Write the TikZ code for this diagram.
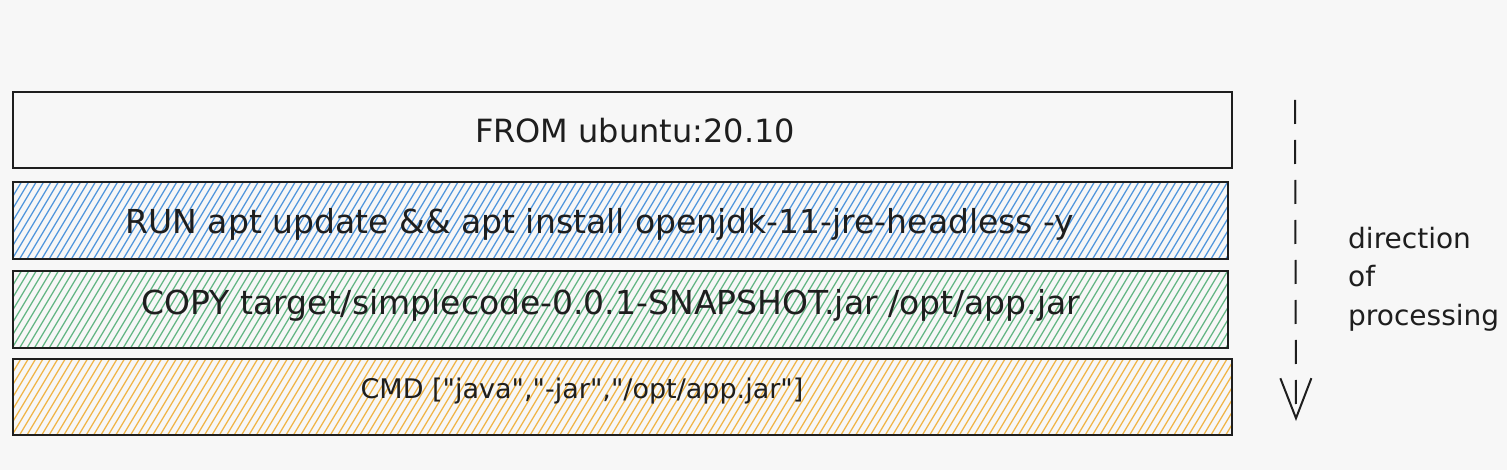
\documentclass[tikz,border=0pt]{standalone}
\usepackage{fontspec}
\setmainfont{DejaVu Sans}
\usetikzlibrary{arrows.meta}
\definecolor{bg}{HTML}{F7F7F7}
\definecolor{ink}{HTML}{1E1E1E}
\definecolor{hblue}{HTML}{4F95DC}
\definecolor{hgreen}{HTML}{62B583}
\definecolor{horange}{HTML}{F0B445}
\tikzset{
  layerbox/.style={draw=ink, line width=2.3pt, inner sep=0pt, rectangle},
  hatched/.style={path picture={
      \foreach \i in {0,...,180}
        \draw[#1, line width=1.25pt]
          ([xshift=\i*7.4pt-60pt]path picture bounding box.south west)
          -- ++(60pt,100pt);
  }},
  cmdtext/.style={text=ink, inner sep=0pt, anchor=base},
  sidetext/.style={text=ink, inner sep=0pt, font=\fontsize{28}{38.5}\selectfont},
}
\begin{document}
\begin{tikzpicture}[x=1pt, y=-1pt]
\useasboundingbox[fill=bg] (0,0) rectangle (1507,470);
% layer boxes
\node[layerbox, minimum width=1219pt, minimum height=76pt] (from) at (622.5,130) {};
\node[layerbox, hatched=hblue, minimum width=1215pt, minimum height=77pt] (run) at (620.5,220.5) {};
\node[layerbox, hatched=hgreen, minimum width=1215pt, minimum height=77pt] (copy) at (620.5,309.5) {};
\node[layerbox, hatched=horange, minimum width=1219pt, minimum height=76pt] (cmd) at (622.5,397) {};
% texts
\node[cmdtext, font=\fontsize{32}{36}\selectfont] (fromt) at (635,143) {FROM ubuntu:20.10};
\node[cmdtext, font=\fontsize{33}{36}\selectfont] (runt) at (600,234) {RUN apt update \&\& apt install openjdk-11-jre-headless -y};
\node[cmdtext, font=\fontsize{33}{36}\selectfont] (copyt) at (611,315) {COPY target/simplecode-0.0.1-SNAPSHOT.jar /opt/app.jar};
\node[cmdtext, font=\fontsize{27}{32}\selectfont] (cmdt) at (582,398) {CMD [\textquotedbl java\textquotedbl,\textquotedbl -jar\textquotedbl,\textquotedbl /opt/app.jar\textquotedbl]};
% direction arrow
\coordinate (astart) at (1295,100);
\coordinate (aend) at (1296,421);
\draw[ink, line width=2pt, dash pattern=on 24pt off 16pt,
      -{Straight Barb[length=40pt, width=31pt, line width=2pt]}] (astart) -- (aend);
\node[sidetext, align=left, anchor=base west] (dir) at (1348,325) {direction\\of\\processing};
\end{tikzpicture}
\end{document}
